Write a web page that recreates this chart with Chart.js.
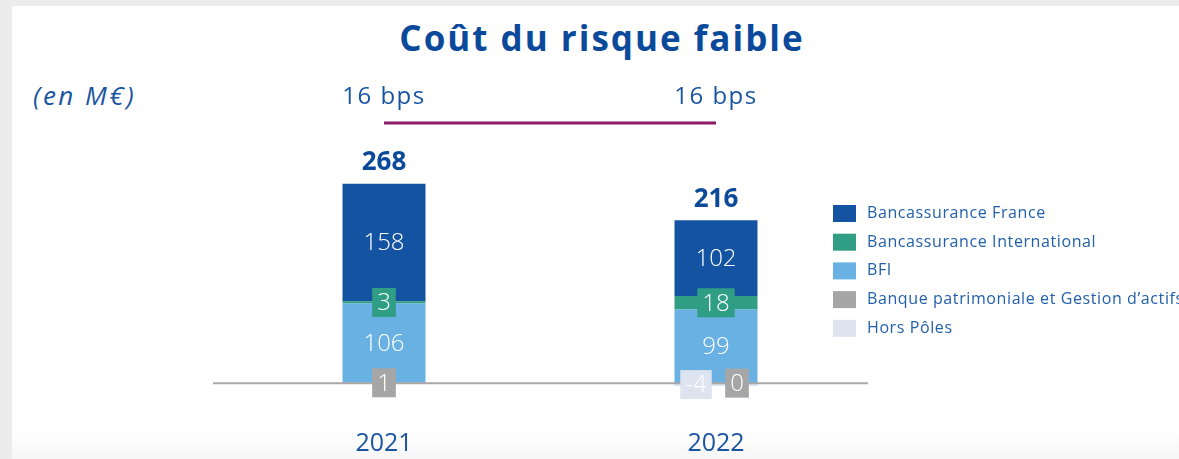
<!DOCTYPE html>
<html lang="fr">
<head>
<meta charset="utf-8">
<title>Coût du risque faible</title>
<script src="https://cdn.jsdelivr.net/npm/chart.js@4.4.1/dist/chart.umd.min.js"></script>
<style>
  html, body { margin: 0; padding: 0; width: 1179px; height: 459px; overflow: hidden; background: #ececec; font-family: "Open Sans", sans-serif; }
  #panel { position: absolute; left: 12px; top: 6px; right: 0; bottom: 0;
           background: linear-gradient(to bottom, #fff 0, #fff 425px, #f6f6f6 100%); }
  #title { position: absolute; left: 25px; width: 1154px; top: 18px; text-align: center;
           font-weight: 700; font-size: 35px; line-height: 40px; letter-spacing: 2px; color: #0b4a9b; }
  #unit { position: absolute; left: 33px; top: 79px; font-style: italic; font-size: 26px; line-height: 32px;
          letter-spacing: 2.5px; color: #1a55a2; }
  #chart { position: absolute; left: 0; top: 0; }
</style>
</head>
<body>
<div id="panel"></div>
<div id="title">Coût du risque faible</div>
<div id="unit">(en M€)</div>
<canvas id="chart" width="1179" height="500"></canvas>
<script>
const years = ['2021', '2022'];
const bancassuranceFrance = [158, 102];
const bancassuranceInternational = [3, 18];
const bfi = [106, 99];
const banquePatrimoniale = [1, 0];
const horsPoles = [null, -4];
const totals = [268, 216];
const bpsLabels = ['16 bps', '16 bps'];

const textBlue = '#1a55a2';
const font = '"Open Sans", sans-serif';

// stacked from the bottom up; boxed labels get a coloured tag behind the value
const datasets = [
  { label: 'Banque patrimoniale et Gestion d’actifs', data: banquePatrimoniale, backgroundColor: '#a6a6a6', boxed: true, shift: [0, 21] },
  { label: 'BFI', data: bfi, backgroundColor: '#68b1e2' },
  { label: 'Bancassurance International', data: bancassuranceInternational, backgroundColor: '#2f9e84', boxed: true },
  { label: 'Bancassurance France', data: bancassuranceFrance, backgroundColor: '#1353a1' },
  { label: 'Hors Pôles', data: horsPoles, backgroundColor: '#dde4ef', boxed: true, shift: [0, -20] }
];
const legendOrder = [3, 2, 1, 0, 4];

const annotations = {
  id: 'annotations',
  afterDatasetsDraw(chart) {
    const { ctx, chartArea, scales: { x, y } } = chart;
    const y0 = y.getPixelForValue(0);
    ctx.save();

    // zero line
    ctx.strokeStyle = '#a8a8a8';
    ctx.lineWidth = 2;
    ctx.beginPath();
    ctx.moveTo(chartArea.left - 5, y0);
    ctx.lineTo(chartArea.right - 14, y0);
    ctx.stroke();

    // segment values
    ctx.textAlign = 'center';
    ctx.textBaseline = 'middle';
    ctx.font = '300 24px ' + font;
    chart.data.datasets.forEach((ds, di) => {
      const meta = chart.getDatasetMeta(di);
      meta.data.forEach((bar, i) => {
        const v = ds.data[i];
        if (v === null) return;
        const cx = bar.x + (ds.shift ? ds.shift[i] : 0);
        const cy = (bar.y + bar.base) / 2;
        const txt = String(v);
        if (ds.boxed) {
          const w = ctx.measureText(txt).width + 10;
          ctx.fillStyle = ds.backgroundColor;
          ctx.fillRect(cx - w / 2, cy - 14.5, w, 29);
        }
        ctx.fillStyle = '#fff';
        ctx.fillText(txt, cx, cy + 1);
      });
    });

    // totals above the bars
    ctx.font = 'bold 26px ' + font;
    ctx.fillStyle = '#0b4a9b';
    totals.forEach((t, i) => {
      let pos = 0;
      chart.data.datasets.forEach(ds => { if (ds.data[i] > 0) pos += ds.data[i]; });
      ctx.fillText(String(t), x.getPixelForValue(i), y.getPixelForValue(pos) - 21);
    });

    // cost of risk in bps + link line
    ctx.font = '24px ' + font;
    ctx.letterSpacing = '1.5px';
    ctx.fillStyle = textBlue;
    bpsLabels.forEach((b, i) => ctx.fillText(b, x.getPixelForValue(i), 97));
    ctx.strokeStyle = '#8c1b67';
    ctx.lineWidth = 3;
    ctx.beginPath();
    ctx.moveTo(x.getPixelForValue(0), 123);
    ctx.lineTo(x.getPixelForValue(1), 123);
    ctx.stroke();

    // legend
    ctx.textAlign = 'left';
    ctx.font = '16px ' + font;
    ctx.letterSpacing = '0.6px';
    legendOrder.forEach((di, k) => {
      const ds = chart.data.datasets[di];
      const ly = 213.5 + k * 28.7;
      ctx.fillStyle = ds.backgroundColor;
      ctx.fillRect(833, ly - 8.5, 23, 17);
      ctx.fillStyle = '#2360aa';
      ctx.fillText(ds.label, 867, ly);
    });
    ctx.restore();
  }
};

new Chart(document.getElementById('chart'), {
  type: 'bar',
  data: { labels: years, datasets: datasets },
  options: {
    responsive: false,
    animation: false,
    devicePixelRatio: 1,
    layout: { padding: { top: 160, left: 218, right: 297, bottom: 10 } },
    datasets: { bar: { barPercentage: 0.25, categoryPercentage: 1, borderWidth: 0 } },
    plugins: { legend: { display: false }, title: { display: false }, tooltip: { enabled: false } },
    scales: {
      x: {
        stacked: true,
        grid: { display: false, drawTicks: false },
        border: { display: false },
        ticks: { padding: 31, color: textBlue, font: { family: font, size: 25 } }
      },
      y: { stacked: true, display: false, min: -20, max: 300 }
    }
  },
  plugins: [annotations]
});
</script>
</body>
</html>
